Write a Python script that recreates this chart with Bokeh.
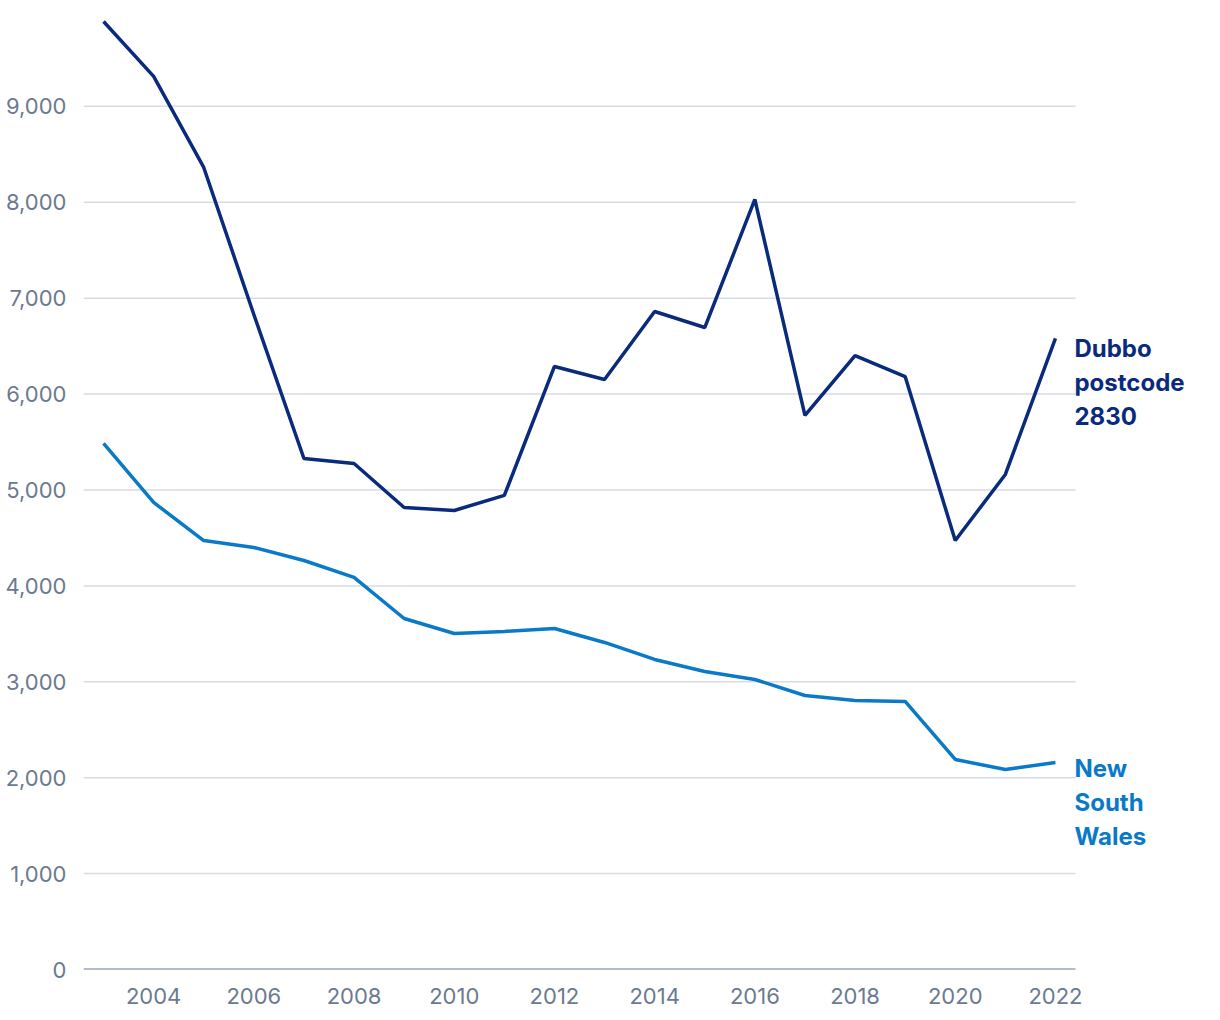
from bokeh.plotting import figure
from bokeh.models import Range1d, FixedTicker, NumeralTickFormatter
from bokeh.core.properties import value
from bokeh.embed import file_html
from bokeh.resources import INLINE

years = list(range(2003, 2023))
dubbo = [9885, 9312, 8363, 6830, 5328, 5276, 4817, 4786, 4943, 6288,
         6152, 6861, 6694, 8029, 5777, 6402, 6183, 4473, 5162, 6580]
nsw = [5485, 4870, 4473, 4400, 4265, 4088, 3660, 3504, 3525, 3556,
       3410, 3233, 3107, 3024, 2857, 2805, 2795, 2190, 2085, 2158]
y_ticks = [0, 1000, 2000, 3000, 4000, 5000, 6000, 7000, 8000, 9000]
x_ticks = [2004, 2006, 2008, 2010, 2012, 2014, 2016, 2018, 2020, 2022]
dubbo_label = ["Dubbo", "postcode", "2830"]
nsw_label = ["New", "South", "Wales"]

NAVY = "#0a2b7c"
BLUE = "#0a7ac8"
SLATE = "#6b7a8f"
GRID = "#d6dbe4"
FONT = "Inter"

# plot area geometry (pixels)
W, H = 1212, 1012
LEFT, TOP, BOTTOM = 83, 16, 43
PLOT_RIGHT = 1075
x0, x1 = 2002.6, 2022.4
ppy = (PLOT_RIGHT - LEFT) / (x1 - x0)
x_end = x0 + (W - LEFT) / ppy

p = figure(width=W, height=H, output_backend="svg", toolbar_location=None,
           x_range=Range1d(x0, x_end), y_range=Range1d(0, 9937),
           min_border_left=LEFT, min_border_right=0, min_border_top=TOP, min_border_bottom=BOTTOM)
p.outline_line_color = None
p.background_fill_color = "white"
p.border_fill_color = "white"

p.xgrid.grid_line_color = None
p.ygrid.grid_line_color = None
# horizontal gridlines limited to the data area
p.segment(x0=[x0] * (len(y_ticks) - 1), x1=[x1] * (len(y_ticks) - 1),
          y0=y_ticks[1:], y1=y_ticks[1:], line_color=GRID, line_width=1.5)

p.yaxis.ticker = FixedTicker(ticks=y_ticks)
p.yaxis.formatter = NumeralTickFormatter(format="0,0")
p.xaxis.ticker = FixedTicker(ticks=x_ticks)
for ax in (p.xaxis, p.yaxis):
    ax.major_tick_line_color = None
    ax.minor_tick_line_color = None
    ax.major_label_text_font = FONT
    ax.major_label_text_font_size = "22px"
    ax.major_label_text_color = SLATE
p.yaxis.axis_line_color = None
p.yaxis.major_label_standoff = 11
p.xaxis.axis_line_color = None
p.xaxis.major_label_standoff = 12
# baseline at zero
p.segment(x0=[x0], x1=[x1], y0=[0], y1=[0], line_color=SLATE, line_width=2)

p.line(years, nsw, line_color=BLUE, line_width=3.5)
p.line(years, dubbo, line_color=NAVY, line_width=3.5)

for i, t in enumerate(dubbo_label):
    p.text(x=[years[-1]], y=[dubbo[-1]], text=[t], x_offset=19, y_offset=10 + 34 * i,
           text_font=value(FONT), text_font_style="bold", text_font_size="24px",
           text_color=NAVY, text_baseline="alphabetic", text_align="left")
for i, t in enumerate(nsw_label):
    p.text(x=[years[-1]], y=[nsw[-1]], text=[t], x_offset=19, y_offset=6 + 34 * i,
           text_font=value(FONT), text_font_style="bold", text_font_size="24px",
           text_color=BLUE, text_baseline="alphabetic", text_align="left")

open("out.html", "w").write(file_html(p, INLINE))
